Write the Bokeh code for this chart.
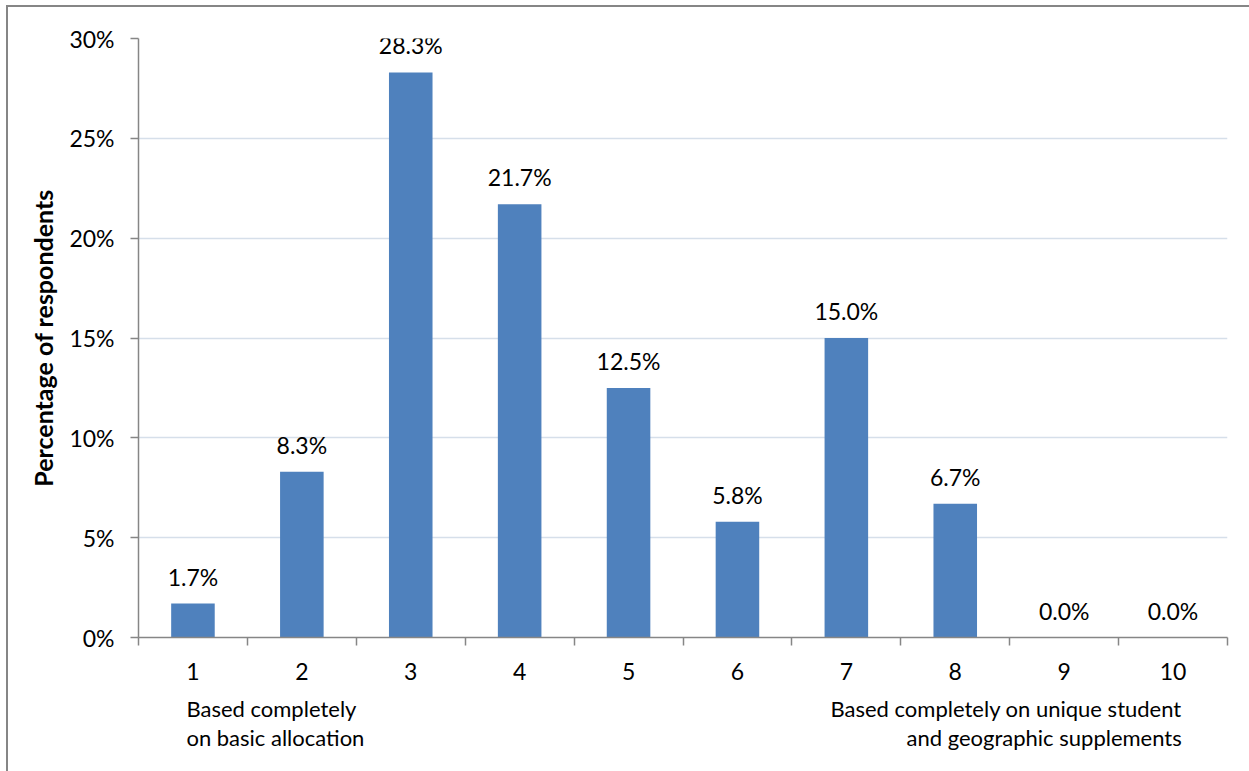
from bokeh.plotting import figure
from bokeh.layouts import column
from bokeh.models import (ColumnDataSource, FixedTicker, LabelSet,
                          PrintfTickFormatter, Range1d)
from bokeh.core.properties import value
from bokeh.embed import file_html
from bokeh.resources import INLINE

# Scale position (1 = basic allocation only ... 10 = supplements only)
scale_points = [1, 2, 3, 4, 5, 6, 7, 8, 9, 10]
# Share of respondents at each scale position, in percent
share_pct = [1.7, 8.3, 28.3, 21.7, 12.5, 5.8, 15.0, 6.7, 0.0, 0.0]
y_ticks = [0, 5, 10, 15, 20, 25, 30]
left_note = ["Based completely", "on basic allocation"]
right_note = ["Based completely on unique student", "and geographic supplements"]

FONT = "Lato"
FS = "23px"
NOTE_FS = "22px"
BAR = "#4F81BD"
AXIS = "#868686"
GRID = "#D6DFEA"

WIDTH = 1241
MAIN_H = 688
NOTE_H = 76
LEFT, RIGHT = 130, 22

src = ColumnDataSource(dict(
    x=scale_points,
    top=share_pct,
    label=[f"{v:.1f}%" for v in share_pct],
))

x_range = Range1d(0.5, len(scale_points) + 0.5)

p = figure(width=WIDTH, height=MAIN_H, output_backend="svg", toolbar_location=None,
           x_range=x_range, y_range=Range1d(0, max(y_ticks)),
           min_border_left=LEFT, min_border_right=RIGHT,
           min_border_top=31, min_border_bottom=58)
p.outline_line_color = None
p.background_fill_color = "white"
p.border_fill_color = "white"

p.vbar(x="x", top="top", width=0.4, source=src, fill_color=BAR, line_color=None)

p.add_layout(LabelSet(x="x", y="top", text="label", source=src,
                      text_align="center", text_baseline="alphabetic",
                      y_offset=18, text_font=value(FONT), text_font_size=FS,
                      text_color="black"))

# y axis
p.yaxis.ticker = FixedTicker(ticks=y_ticks)
p.yaxis.formatter = PrintfTickFormatter(format="%d%%")
p.yaxis.axis_line_color = AXIS
p.yaxis.axis_line_width = 1.5
p.yaxis.major_tick_line_color = AXIS
p.yaxis.major_tick_line_width = 1.5
p.yaxis.major_tick_out = 8
p.yaxis.major_tick_in = 0
p.yaxis.minor_tick_line_color = None
p.yaxis.major_label_standoff = 16
p.yaxis.major_label_text_font = FONT
p.yaxis.major_label_text_font_size = FS
p.yaxis.major_label_text_color = "black"
p.yaxis.axis_label = "Percentage of respondents"
p.yaxis.axis_label_text_font = FONT
p.yaxis.axis_label_text_font_style = "bold"
p.yaxis.axis_label_text_font_size = "25px"
p.yaxis.axis_label_text_color = "black"
p.yaxis.axis_label_standoff = 8

# x axis: labels at category centres, tick marks at category boundaries
bounds = [x - 0.5 for x in scale_points] + [scale_points[-1] + 0.5]
p.xaxis.ticker = FixedTicker(ticks=scale_points, minor_ticks=bounds)
p.xaxis.axis_line_color = AXIS
p.xaxis.axis_line_width = 1.5
p.xaxis.major_tick_line_color = None
p.xaxis.major_tick_out = 0
p.xaxis.major_tick_in = 0
p.xaxis.minor_tick_line_color = AXIS
p.xaxis.minor_tick_line_width = 1.5
p.xaxis.minor_tick_out = 8
p.xaxis.minor_tick_in = 0
p.xaxis.major_label_standoff = 17
p.xaxis.major_label_text_font = FONT
p.xaxis.major_label_text_font_size = FS
p.xaxis.major_label_text_color = "black"

p.xgrid.grid_line_color = None
p.ygrid.grid_line_color = GRID
p.ygrid.grid_line_width = 1.5

# strip below the axis holding the end-of-scale notes (y counts pixels down)
notes = figure(width=WIDTH, height=NOTE_H, output_backend="svg", toolbar_location=None,
               x_range=x_range, y_range=Range1d(NOTE_H, 0),
               x_axis_type=None, y_axis_type=None,
               min_border=0, min_border_left=LEFT, min_border_right=RIGHT)
notes.outline_line_color = None
notes.grid.grid_line_color = None
notes.background_fill_color = "white"
notes.border_fill_color = "white"

line_y = [13, 42]
notes.text(x=[scale_points[0] - 0.06] * 2, y=line_y, text=left_note,
           text_align="left", text_baseline="middle",
           text_font=value(FONT), text_font_size=NOTE_FS, text_color="black")
notes.text(x=[scale_points[-1] + 0.08] * 2, y=line_y, text=right_note,
           text_align="right", text_baseline="middle",
           text_font=value(FONT), text_font_size=NOTE_FS, text_color="black")

layout = column(p, notes, spacing=0)
layout.styles = {"margin-left": "6px", "margin-top": "5px",
                 "border-left": f"2px solid {AXIS}", "border-top": f"2px solid {AXIS}",
                 "background-color": "white"}

open("out.html", "w").write(file_html(layout, INLINE))
